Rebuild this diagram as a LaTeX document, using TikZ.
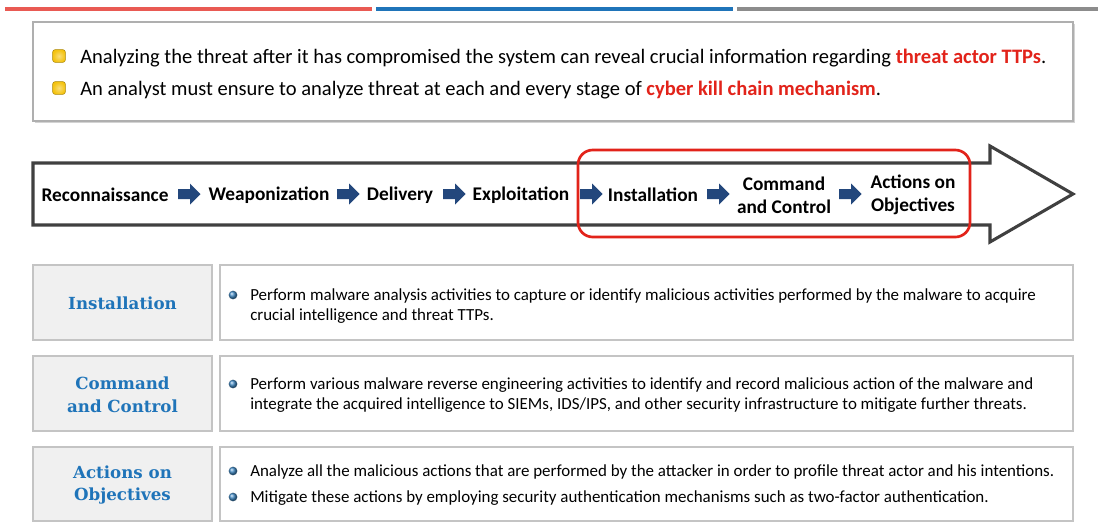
\documentclass[tikz,border=0pt]{standalone}
\usepackage{fontspec}
\setmainfont{Carlito}
\newfontfamily\slabfont{DejaVu Serif}
\usetikzlibrary{shapes,calc,positioning,shadows}
\definecolor{kcred}{HTML}{E2231A}
\definecolor{kcblue}{HTML}{1F74B9}
\definecolor{kcnavy}{HTML}{23477C}
\definecolor{kcgray}{HTML}{8C8C8C}
\definecolor{kcline}{HTML}{C4C4C4}
\definecolor{kcfill}{HTML}{F0F0F0}
\definecolor{kcyellow}{HTML}{F4C20D}
\tikzset{
	topline/.style={line width=2.4pt},
	panel/.style={draw=kcline, line width=1.3pt, fill=white},
	headbox/.style={draw=kcline, line width=1.3pt, fill=kcfill},
	stage/.style={font=\bfseries\fontsize{14.5}{17}\selectfont, align=center, inner sep=0},
	stagearr/.pic={\fill[kcnavy] (-11,-5) -- (1,-5) -- (1,-10.5) -- (11.5,0) -- (1,10.5) -- (1,5) -- (-11,5) -- cycle;},
	headlabel/.style={font=\slabfont\bfseries\fontsize{12.5}{17}\selectfont, text=kcblue, align=center, inner sep=0},
	rowtext/.style={font=\fontsize{12.7}{15}\selectfont, anchor=north west, align=left, inner sep=0},
	toptext/.style={font=\fontsize{15.4}{18}\selectfont, anchor=west, inner sep=0},
	sqbullet/.style={draw=kcyellow!70!black, line width=0.4pt, rounded corners=1.8pt, inner color=kcyellow!55!white, outer color=kcyellow, minimum size=9.5pt, inner sep=0},
	dotbullet/.style={circle, ball color=kcblue!85!white, minimum size=6.5pt, inner sep=0}
}
\begin{document}
\begin{tikzpicture}[x=0.75pt,y=-0.75pt]
	\useasboundingbox (0,0) rectangle (1112,529);
	%%%% top rule
	\draw[topline,kcred!75] (5,9) -- (372,9);
	\draw[topline,kcblue] (376,9) -- (733,9);
	\draw[topline,kcgray] (737,9) -- (1098,9);

	%%%% intro box
	\draw[draw=kcgray!70, line width=1.3pt, fill=white, drop shadow={shadow xshift=1.5pt, shadow yshift=-1.5pt, opacity=0.35}] (33,22) rectangle (1073,121);
	\node[sqbullet] (b1) at (59,56) {};
	\node[sqbullet] (b2) at (59,88) {};
	\node[toptext] (t1) at (80,58) {Analyzing the threat after it has compromised the system can reveal crucial information regarding \textcolor{kcred}{\bfseries threat actor TTPs}.};
	\node[toptext] (t2) at (80,90) {An analyst must ensure to analyze threat at each and every stage of \textcolor{kcred}{\bfseries cyber kill chain mechanism}.};

	%%%% kill chain arrow
	\draw[draw=black!75, line width=2.3pt, fill=white] (33,163) -- (990,163) -- (990,146) -- (1073,194) -- (990,242) -- (990,225) -- (33,225) -- cycle;
	\node[stage] (rec) at (105,195) {Reconnaissance};
	\node[stage] (weap) at (269,195) {Weaponization};
	\node[stage] (del) at (400,195) {Delivery};
	\node[stage] (expl) at (521,195) {Exploitation};
	\node[stage] (inst) at (653,195) {Installation};
	\node[stage] (cc) at (784,195) {Command\\and Control};
	\node[stage] (aoo) at (913,195) {Actions on\\Objectives};
	\foreach \ax in {189,348,454,591,718,850}
		\pic at (\ax,194) {stagearr};
	\draw[kcred, line width=2pt, rounded corners=11pt] (578,150) rectangle (970,237);

	%%%% Installation
	\draw[headbox] (33,265) rectangle (212,340);
	\draw[panel] (220,265) rectangle (1073,340);
	\node[headlabel] (hinst) at (122.5,303) {Installation};
	\node[dotbullet] (d1) at (233,295) {};
	\node[rowtext] (r1) at (250,288) {Perform malware analysis activities to capture or identify malicious activities performed by the malware to acquire\\crucial intelligence and threat TTPs.};

	%%%% Command and Control
	\draw[headbox] (33,356) rectangle (212,431);
	\draw[panel] (220,356) rectangle (1073,431);
	\node[headlabel] (hcc) at (122.5,395) {Command\\and Control};
	\node[dotbullet] (d2) at (233,384) {};
	\node[rowtext] (r2) at (250,377) {Perform various malware reverse engineering activities to identify and record malicious action of the malware and\\integrate the acquired intelligence to SIEMs, IDS/IPS, and other security infrastructure to mitigate further threats.};

	%%%% Actions on Objectives
	\draw[headbox] (33,447) rectangle (212,521);
	\draw[panel] (220,447) rectangle (1073,521);
	\node[headlabel] (haoo) at (122.5,485) {Actions on\\Objectives};
	\node[dotbullet] (d3) at (233,471) {};
	\node[dotbullet] (d4) at (233,497) {};
	\node[rowtext] (r3) at (250,464) {Analyze all the malicious actions that are performed by the attacker in order to profile threat actor and his intentions.};
	\node[rowtext] (r4) at (250,490) {Mitigate these actions by employing security authentication mechanisms such as two-factor authentication.};
\end{tikzpicture}
\end{document}
